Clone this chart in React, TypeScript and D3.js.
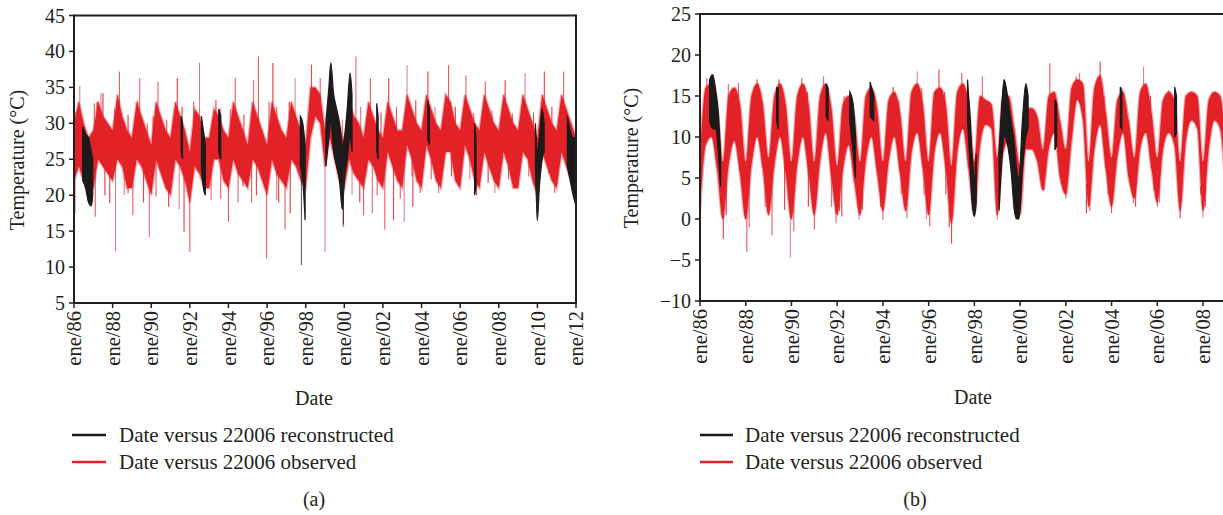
import React from "react";
import * as d3 from "d3";

// ---------- shared tick data ----------
const tickYears = [1986, 1988, 1990, 1992, 1994, 1996, 1998, 2000, 2002, 2004, 2006, 2008, 2010, 2012];
const tickLabels = ["ene/86", "ene/88", "ene/90", "ene/92", "ene/94", "ene/96", "ene/98", "ene/00", "ene/02", "ene/04", "ene/06", "ene/08", "ene/10", "ene/12"];
const aYTicks = [5, 10, 15, 20, 25, 30, 35, 40, 45];
const bYTicks = [-10, -5, 0, 5, 10, 15, 20, 25];
const seriesNames = ["Date versus 22006 reconstructed", "Date versus 22006 observed"];
const startYear = 1986;
const step = 0.25; // quarterly samples of the observed band

// ---------- panel (a): observed band (quarterly upper / lower envelope) ----------
const aObsHi = [
  30, 33, 30, 28, 29, 33, 31, 30, 29, 34, 31, 29, 28, 33, 31, 29, 27, 33, 31, 29,
  28, 33, 31, 29, 26, 32, 31, 28, 28, 32, 31, 29, 28, 33, 31, 29, 27, 33, 31, 29,
  27, 33, 31, 29, 28, 33, 31, 29, 27, 35, 35, 34, 29, 35, 33, 30, 27, 33, 31, 30,
  28, 33, 31, 29, 28, 33, 31, 29, 29, 34, 32, 30, 29, 34, 32, 30, 29, 34, 33, 30,
  29, 34, 32, 30, 29, 34, 32, 30, 29, 34, 32, 30, 29, 34, 32, 30, 28, 34, 32, 30,
  29, 34, 32, 30, 28,
];
const aObsLo = [
  22, 24, 22, 20, 21, 25, 24, 23, 22, 25, 24, 21, 21, 25, 24, 22, 20, 25, 23, 21,
  20, 25, 24, 22, 19, 24, 23, 21, 21, 25, 25, 22, 21, 25, 23, 22, 21, 25, 24, 22,
  20, 25, 23, 22, 21, 25, 24, 22, 21, 28, 31, 30, 24, 28, 25, 22, 21, 25, 23, 22,
  21, 25, 24, 22, 21, 26, 24, 22, 21, 27, 25, 22, 21, 27, 25, 22, 21, 26, 26, 22,
  21, 27, 25, 22, 21, 26, 24, 22, 21, 26, 24, 21, 21, 26, 25, 22, 20, 26, 24, 22,
  21, 26, 24, 22, 20,
];
// spikes of the observed series: [date, value]
const aObsSpikes: [number, number][] = [
  // tall upward spikes
  [1986.3, 35.2], [1987.5, 34.2], [1988.35, 37.2], [1989.4, 36.3], [1990.35, 35.8], [1991.35, 36.3],
  [1992.5, 38.4], [1993.35, 33.2], [1994.35, 36.3], [1995.3, 36], [1995.55, 39.3], [1996.3, 38.4],
  [1997.45, 36.3], [1998.3, 38.2], [1998.75, 36.3], [2000.6, 39.3], [2001.35, 36.3], [2002.3, 36.3],
  [2003.25, 38.1], [2004.33, 37.2], [2005.4, 38.1], [2006.3, 36.7], [2007.3, 35.8], [2008.33, 36],
  [2009.36, 37], [2010.36, 37.2], [2011.36, 37.2],
  // smaller upward protrusions
  [1986.1, 31.6], [1987.05, 32.8], [1987.2, 33], [1987.4, 34.2], [1988.8, 31.2], [1989.3, 33.2],
  [1989.8, 30], [1990.8, 30.5], [1991.6, 32.3], [1993.6, 32.1], [1994.8, 31.2], [1996.5, 32.3],
  [2000.85, 32.3], [2002.7, 32.3], [2003.7, 33.2], [2004.7, 32.3], [2005.75, 32.3], [2006.7, 31.4],
  [2007.65, 31.8], [2008.7, 31.4], [2010.75, 32.3], [1988.1, 32], [1990.1, 31], [1992.2, 33],
  [1994.1, 32], [1996.1, 33], [1997.15, 33], [1999.9, 30.5], [2001.9, 31.5], [2009.8, 31.5],
  // downward spikes
  [1986.05, 17.5], [1987.1, 17], [1987.85, 18.9], [1988.15, 12.2], [1988.8, 20.3], [1989.05, 17.2],
  [1989.9, 14.2], [1990.25, 19.8], [1990.9, 18.4], [1991.45, 18], [1991.7, 14.9], [1992.0, 12.1],
  [1993.1, 19.3], [1994.0, 16.3], [1994.75, 21.2], [1994.95, 21.2], [1995.45, 20], [1995.98, 11.2],
  [1996.5, 19.3], [1996.93, 15.2], [1997.2, 17.5], [1999.0, 12.1], [1999.95, 15.6], [2001.0, 17.2],
  [2001.45, 17.5], [2002.1, 15.2], [2002.55, 16.5], [2003.1, 16.3], [2003.55, 18.4], [2003.93, 20.3],
  [2004.88, 20.3], [2005.9, 21.2], [2006.85, 20], [2007.8, 20.3], [2008.85, 21.2], [2010.9, 20.3],
  [2003.5, 22.6], [2004.5, 22.2], [2005.55, 22.6], [2006.5, 22.2], [2007.45, 21.7], [2008.5, 22.2],
  [2009.55, 22.6], [2010.6, 23], [1987.6, 20], [1988.6, 20], [1989.6, 19], [1993.6, 19.5],
  [1994.5, 19], [1995.2, 19], [1996.6, 19], [2000.4, 20], [2000.8, 19], [2001.7, 20], [2002.9, 19.5],
];
// reconstructed series, visible segments: [date, upper, lower]
const aRecSegments: [number, number, number][][] = [
  [[1986.45, 29.5, 22], [1986.6, 28.5, 21], [1986.75, 28, 19], [1986.9, 26, 18.5], [1986.97, 25, 20]],
  [[1991.55, 31, 26], [1991.62, 30, 25]],
  [[1992.6, 31, 24], [1992.7, 29, 21], [1992.8, 27, 20]],
  [[1993.5, 32, 26], [1993.6, 31, 25]],
  [[1997.72, 31, 24], [1997.85, 30, 22], [1997.97, 27, 16.5]],
  [[1999.05, 30, 24], [1999.2, 35, 28], [1999.3, 38.4, 30], [1999.45, 34, 26], [1999.6, 32, 24], [1999.75, 30, 22],
   [1999.9, 27, 18], [2000.0, 28, 22], [2000.15, 32, 25], [2000.3, 37, 28], [2000.4, 34, 26]],
  [[2001.68, 32.8, 26.3], [2001.75, 31, 25]],
  [[2004.33, 33.2, 27.7], [2004.4, 32, 27]],
  [[2006.75, 30, 20], [2006.82, 28, 21]],
  [[2009.9, 30, 24], [2010.0, 26, 16.5], [2010.1, 28, 21], [2010.25, 32, 25], [2010.35, 30, 26]],
  [[2011.55, 31, 24], [2011.7, 29, 22], [2011.85, 28, 20], [2012.0, 28, 18.5]],
];
const aRecSpikes: [number, number][] = [[1997.78, 10.3], [2010.0, 16.5], [1999.95, 16]];

// ---------- panel (b): observed band ----------
const bObsHi = [
  8, 16, 16.5, 14, 7, 15, 16, 14, 7, 15, 16.5, 14, 7.5, 15, 16.5, 14, 7, 15, 16.5, 14,
  7, 15, 16.5, 13.5, 6.5, 14, 15, 12.5, 7, 15, 16, 13.5, 7, 14.5, 15.5, 13, 7, 15.5, 16.5, 14,
  7, 15.5, 16, 14, 6.5, 15.5, 16.5, 14, 7, 15, 14.5, 14, 7.5, 15, 15, 11, 6.5, 13.5, 13.5, 12.5,
  8.5, 15, 15.5, 12, 8.5, 16, 17, 16.5, 7, 16, 17.5, 13, 7.5, 14.5, 15.5, 12, 7.5, 15.5, 16.5, 13,
  7.5, 14.5, 15.5, 14.5, 7, 15, 15.5, 15, 7, 14.5, 15.5, 15, 8.5,
];
const bObsLo = [
  1, 9, 10, 6, 0, 6.5, 9.5, 5.5, 0, 6.5, 10, 6, 0.5, 6.5, 10, 5.5, 0, 6.5, 10, 5.5,
  0.5, 7, 10.5, 5, 0.5, 6, 9, 4.5, 0.5, 7, 10, 5.5, 1, 7, 10, 5.5, 1, 8, 10.5, 6,
  0.5, 8, 10.5, 6, -0.5, 8, 11, 6, 0.5, 9, 11.5, 11, 0.5, 8, 9.5, 3, 0.5, 8.5, 8.5, 7,
  3.5, 8.5, 10.5, 5, 3, 9.5, 14.5, 12, 1.5, 8.5, 11.5, 6, 1.5, 7.5, 10.5, 5, 2.5, 8.5, 10.5, 6,
  2, 8.5, 10.5, 9, 1, 9.5, 12, 11, 1, 8.5, 12, 11, 2.5,
];
const bObsSpikes: [number, number][] = [
  // downward spikes
  [1986.02, -4.5], [1987.02, -2.4], [1988.05, -4], [1988.85, 1.5], [1989.15, -2], [1989.7, 1.1],
  [1989.95, -4.7], [1990.74, 1.5], [1991.0, -1.3], [1991.75, 1.5], [1991.95, -0.5], [1992.2, 0.3],
  [1992.95, -0.1], [1993.1, 1.1], [1994.0, -0.1], [1995.05, 0.1], [1996.05, -0.9], [1997.0, -3],
  [1999.0, -0.1], [2002.9, 0.7], [2004.0, 0.7], [2004.95, 1.9], [2006.0, 1.5], [2007.0, 0.1],
  [2008.0, 0.1], [1987.15, 0.5], [1988.15, -1], [1990.1, -1.5], [1992.1, 1], [1993.9, 1.5],
  [1995.9, 0], [1996.9, -1], [1994.8, 3], [1995.8, 3], [1996.75, 3], [2003.85, 3], [2005.85, 3.5],
  [2007.9, 3], [2001.05, 3.5], [2002.0, 2.5], [2003.05, 1], [2005.05, 1.5], [2006.1, 2], [2008.1, 1.5],
  // upward spikes
  [1986.3, 17.2], [1987.24, 16.5], [1987.68, 16.6], [1988.5, 17], [1988.55, 16.5], [1989.45, 17],
  [1990.45, 17.2], [1991.4, 17.4], [1993.45, 16.7], [1994.45, 16.1], [1995.5, 18], [1996.45, 18.2],
  [1997.45, 17.8], [1998.35, 17.4], [2001.3, 19], [2003.5, 19.2], [2005.4, 18.6], [2004.45, 16],
  [2006.5, 15.7], [2002.6, 17.8], [2002.45, 17.4], [2007.45, 15.5], [2008.45, 15.3], [1990.7, 15.5],
  [1992.3, 15], [1994.7, 14.5], [1995.7, 16], [1996.7, 15.5], [2003.7, 15], [2005.7, 15],
];
const bRecSegments: [number, number, number][][] = [
  [[1986.42, 17, 12], [1986.55, 17.6, 11], [1986.7, 15.5, 11], [1986.8, 13, 8], [1986.9, 8, 4]],
  [[1989.35, 16, 12], [1989.42, 16, 11]],
  [[1991.52, 16.5, 12.5], [1991.6, 16, 12]],
  [[1992.55, 15.5, 12], [1992.7, 14, 8], [1992.8, 10, 5]],
  [[1993.44, 16.7, 12.5], [1993.6, 15, 12]],
  [[1997.7, 17, 12], [1997.8, 13, 7], [1997.9, 8, 2], [1998.0, 5, 0.3], [1998.08, 8, 2]],
  [[1999.08, 8, 1], [1999.2, 14, 7], [1999.3, 17, 10], [1999.45, 15, 9], [1999.6, 12, 6], [1999.75, 9, 1],
   [1999.85, 6, 0], [1999.95, 5, 0], [2000.1, 12, 6], [2000.25, 16.5, 10], [2000.35, 15, 11]],
  [[2001.52, 14.5, 8.4], [2001.6, 14, 9]],
  [[2004.38, 16.1, 11.3], [2004.45, 15.5, 11]],
  [[2006.76, 16.1, 10], [2006.84, 15, 10.5]],
];

const RED = "#e32228";
const BLACK = "#1c1a1b";
const AXIS = "#231f20";
const FONT = "'Liberation Serif', 'Times New Roman', Times, serif";

type PanelProps = {
  left: number; right: number; top: number; bottom: number;
  xEnd: number; yDomain: [number, number]; yTicks: number[];
  hi: number[]; lo: number[]; spikes: [number, number][];
  segs: [number, number, number][][]; recSpikes: [number, number][];
  boxRight: boolean; id: string; sharp: boolean;
};

function Panel(p: PanelProps) {
  const x = d3.scaleLinear().domain([1986, 2012]).range([p.left, p.xEnd]);
  const y = d3.scaleLinear().domain(p.yDomain).range([p.bottom, p.top]);
  const times = p.hi.map((_, i) => startYear + i * step);
  const curve = p.sharp ? d3.curveLinear : d3.curveMonotoneX;
  const band = d3.area<number>()
    .x((_, i) => x(times[i]))
    .y0((_, i) => y(p.lo[i]))
    .y1((d) => y(d))
    .curve(curve);
  const edge = d3.line<number>().x((_, i) => x(times[i])).y((d) => y(d)).curve(curve);
  const segArea = d3.area<[number, number, number]>()
    .x((d) => x(d[0])).y0((d) => y(d[2])).y1((d) => y(d[1]))
    .curve(d3.curveMonotoneX);
  const baseAt = (t: number) => {
    const i = Math.max(0, Math.min(p.hi.length - 1, Math.round((t - startYear) / step)));
    return (p.hi[i] + p.lo[i]) / 2;
  };
  const clipRight = Math.min(p.right, 1223);
  const txt = { fontFamily: FONT };
  return (
    <g>
      <defs>
        <clipPath id={p.id}>
          <rect x={p.left} y={p.top} width={clipRight - p.left} height={p.bottom - p.top} />
        </clipPath>
      </defs>
      <g clipPath={`url(#${p.id})`}>
        <path d={edge(p.hi) || ""} fill="none" stroke="rgba(226,80,90,0.5)" strokeWidth={2.4} />
        <path d={edge(p.lo) || ""} fill="none" stroke="rgba(226,80,90,0.5)" strokeWidth={2.4} />
        {p.spikes.map((s, i) => (
          <line key={i} x1={x(s[0])} x2={x(s[0])} y1={y(baseAt(s[0]))} y2={y(s[1])}
            stroke={i % 3 === 0 ? "rgba(214,60,72,0.7)" : "rgba(228,40,48,0.85)"} strokeWidth={i % 2 ? 1.2 : 1} />
        ))}
        <path d={band(p.hi) || ""} fill={RED} stroke="none" />
        {p.segs.map((seg, i) => (
          <path key={i} d={segArea(seg) || ""} fill={BLACK} stroke={BLACK} strokeWidth={1.2} />
        ))}
        {p.recSpikes.map((s, i) => (
          <line key={i} x1={x(s[0])} x2={x(s[0])} y1={y(baseAt(s[0]))} y2={y(s[1])}
            stroke="rgba(40,40,40,0.75)" strokeWidth={1.1} />
        ))}
      </g>
      {/* frame */}
      <line x1={p.left} x2={clipRight} y1={p.top} y2={p.top} stroke={AXIS} strokeWidth={2} />
      <line x1={p.left} x2={clipRight} y1={p.bottom} y2={p.bottom} stroke={AXIS} strokeWidth={2} />
      <line x1={p.left} x2={p.left} y1={p.top - 1} y2={p.bottom + 1} stroke={AXIS} strokeWidth={2} />
      {p.boxRight && <line x1={p.right} x2={p.right} y1={p.top - 1} y2={p.bottom + 1} stroke={AXIS} strokeWidth={2} />}
      {/* y ticks */}
      {p.yTicks.map((t) => (
        <g key={t}>
          <line x1={p.left - 5} x2={p.left} y1={y(t)} y2={y(t)} stroke={AXIS} strokeWidth={1.5} />
          <text x={p.left - 9} y={y(t)} dy="0.35em" textAnchor="end" fontSize={20} fill={AXIS} style={txt}>
            {t < 0 ? "\u2212" + Math.abs(t) : t}
          </text>
        </g>
      ))}
      {/* x ticks */}
      {tickYears.map((t, i) => (
        x(t) <= 1223 ? (
          <g key={t}>
            <line x1={x(t)} x2={x(t)} y1={p.bottom} y2={p.bottom + 5} stroke={AXIS} strokeWidth={1.5} />
            <text transform={`translate(${x(t)},${p.bottom + 8}) rotate(-90)`} dy="0.35em" textAnchor="end"
              fontSize={20.5} fill={AXIS} style={txt}>{tickLabels[i]}</text>
          </g>
        ) : null
      ))}
    </g>
  );
}

export default function App() {
  const legendA = { x: 72, lineLen: 34, textX: 119 };
  const legendB = { x: 700, lineLen: 33, textX: 745 };
  const legendYs = [435, 462];
  const legendColors = [BLACK, RED];
  const txt = { fontFamily: FONT };
  return (
    <svg width={1223} height={515} style={{ position: "absolute", left: 0, top: 0, background: "#fff", fontFamily: FONT }}>
      <rect x={0} y={0} width={1223} height={515} fill="#fff" />
      <Panel left={74} right={576} top={15.5} bottom={303} xEnd={576} yDomain={[5, 45]} yTicks={aYTicks}
        hi={aObsHi} lo={aObsLo} spikes={aObsSpikes} segs={aRecSegments} recSpikes={aRecSpikes} boxRight={true} id="clipA" sharp={true} />
      <Panel left={700} right={1294.5} top={14} bottom={301} xEnd={1294.5} yDomain={[-10, 25]} yTicks={bYTicks}
        hi={bObsHi} lo={bObsLo} spikes={bObsSpikes} segs={bRecSegments} recSpikes={[]} boxRight={false} id="clipB" sharp={false} />

      <text transform="translate(24,160) rotate(-90)" textAnchor="middle" fontSize={20} fill={AXIS} style={txt}>Temperature (°C)</text>
      <text transform="translate(638,158) rotate(-90)" textAnchor="middle" fontSize={20} fill={AXIS} style={txt}>Temperature (°C)</text>

      <text x={314} y={405} textAnchor="middle" fontSize={20} fill={AXIS} style={txt}>Date</text>
      <text x={973} y={404} textAnchor="middle" fontSize={20} fill={AXIS} style={txt}>Date</text>

      {[legendA, legendB].map((lg, j) => (
        <g key={j}>
          {seriesNames.map((name, i) => (
            <g key={i}>
              <line x1={lg.x} x2={lg.x + lg.lineLen} y1={legendYs[i]} y2={legendYs[i]} stroke={legendColors[i]} strokeWidth={2.5} />
              <text x={lg.textX} y={legendYs[i]} dy="0.33em" fontSize={21} fill={AXIS} style={txt}>{name}</text>
            </g>
          ))}
        </g>
      ))}

      <text x={314} y={506} textAnchor="middle" fontSize={20} fill={AXIS} style={txt}>(a)</text>
      <text x={915} y={506} textAnchor="middle" fontSize={20} fill={AXIS} style={txt}>(b)</text>
    </svg>
  );
}
